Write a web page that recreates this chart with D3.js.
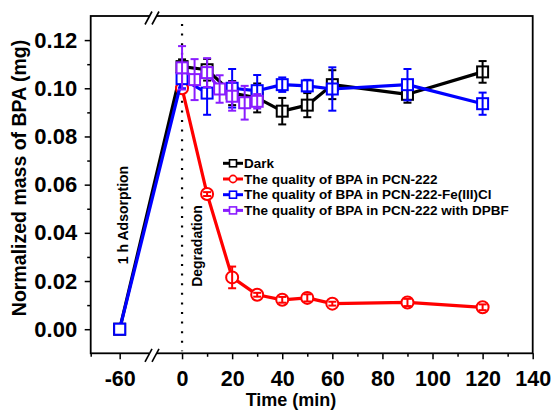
<!DOCTYPE html>
<html>
<head>
<meta charset="utf-8">
<script src="https://cdn.jsdelivr.net/npm/d3@7"></script>
<style>
  body { margin: 0; background: #fff; }
  text { font-family: Arial, "Liberation Sans", sans-serif; font-weight: bold; }
</style>
</head>
<body>
<div id="chart"></div>
<script>
const width = 553;
const height = 410;

// data
const darkTime = [-60, 0, 10, 20, 30, 40, 50, 60, 90, 120];
const darkMass = [0, 0.109, 0.1077, 0.098, 0.096, 0.0905, 0.093, 0.1015, 0.0975, 0.1068];
const darkErr  = [0, 0.003, 0.0045, 0.005, 0.006, 0.0055, 0.005, 0.006, 0.0035, 0.0045];

const redTime = [0, 10, 20, 30, 40, 50, 60, 90, 120];
const redMass = [0.100, 0.0561, 0.0215, 0.0143, 0.0122, 0.013, 0.0106, 0.0111, 0.0091];
const redErr  = [0, 0.0008, 0.0045, 0.0008, 0.0012, 0.0015, 0.0008, 0.0015, 0.0012];

const feTime = [-60, 0, 10, 20, 30, 40, 50, 60, 90, 120];
const feMass = [0, 0.104, 0.098, 0.100, 0.099, 0.1015, 0.101, 0.0997, 0.1015, 0.0936];
const feErr  = [0, 0.004, 0.009, 0.008, 0.0065, 0.003, 0.0025, 0.009, 0.0065, 0.0046];

const dpbfTime = [0, 5, 10, 15, 20, 25, 30];
const dpbfMass = [0.1085, 0.1036, 0.1065, 0.0997, 0.0967, 0.094, 0.0946];
const dpbfErr  = [0.009, 0.0085, 0.006, 0.0057, 0.006, 0.007, 0.003];

const seriesNames = [
  "Dark",
  "The quality of BPA in PCN-222",
  "The quality of BPA in PCN-222-Fe(III)Cl",
  "The quality of BPA in PCN-222 with DPBF"
];
const seriesColors = ["#000000", "#ff0000", "#0000ff", "#8a1cff"];
const seriesShapes = ["square", "circle", "square", "square"];

const xMajor = [-60, 0, 20, 40, 60, 80, 100, 120, 140];
const xMinor = [-70, 10, 30, 50, 70, 90, 110, 130];
const yMajor = [0, 0.02, 0.04, 0.06, 0.08, 0.10, 0.12];
const yMinor = [0.01, 0.03, 0.05, 0.07, 0.09, 0.11];

const plotLeft = 90.7, plotRight = 532.7, plotTop = 16, plotBottom = 353.3;

// broken x axis: a short piece around -60, then -11..140
const x = d3.scaleLinear()
    .domain([-70, -48.5, -11, 140])
    .range([plotLeft, 153, 154.5, plotRight]);
const y = d3.scaleLinear().domain([-0.01, 0.13]).range([plotBottom, plotTop]);

const svg = d3.select("#chart").append("svg")
    .attr("width", width)
    .attr("height", height);

// frame
svg.append("rect")
    .attr("x", plotLeft).attr("y", plotTop)
    .attr("width", plotRight - plotLeft).attr("height", plotBottom - plotTop)
    .attr("fill", "none").attr("stroke", "#000").attr("stroke-width", 1.8);

// y axis
const yAxis = svg.append("g")
    .attr("transform", `translate(${plotLeft},0)`)
    .call(d3.axisLeft(y).tickValues(yMajor).tickFormat(d3.format(".2f")).tickSize(6).tickPadding(7.5));
yAxis.select(".domain").remove();
yAxis.selectAll("line").attr("stroke-width", 1.5);
yAxis.selectAll("text").style("font-size", "22px").attr("fill", "#000")
    .style("font-family", "Arial, 'Liberation Sans', sans-serif").style("font-weight", "bold");

const yAxisMinor = svg.append("g")
    .attr("transform", `translate(${plotLeft},0)`)
    .call(d3.axisLeft(y).tickValues(yMinor).tickFormat("").tickSize(3.5));
yAxisMinor.select(".domain").remove();
yAxisMinor.selectAll("line").attr("stroke-width", 1.5);

// x axis (plain hyphen for negatives, as in the original)
const xAxis = svg.append("g")
    .attr("transform", `translate(0,${plotBottom})`)
    .call(d3.axisBottom(x).tickValues(xMajor).tickFormat(d => String(d)).tickSize(6).tickPadding(11));
xAxis.select(".domain").remove();
xAxis.selectAll("line").attr("stroke-width", 1.5);
xAxis.selectAll("text").style("font-size", "21.5px").attr("fill", "#000")
    .style("font-family", "Arial, 'Liberation Sans', sans-serif").style("font-weight", "bold");

const xAxisMinor = svg.append("g")
    .attr("transform", `translate(0,${plotBottom})`)
    .call(d3.axisBottom(x).tickValues(xMinor).tickFormat("").tickSize(3.5));
xAxisMinor.select(".domain").remove();
xAxisMinor.selectAll("line").attr("stroke-width", 1.5);

// axis break marks on bottom and top
function breakMark(cy) {
  const g = svg.append("g");
  g.append("rect").attr("x", 149).attr("y", cy - 3).attr("width", 8).attr("height", 6).attr("fill", "#fff");
  [0, 7].forEach(off => {
    g.append("line")
      .attr("x1", 145 + off).attr("y1", cy + 7)
      .attr("x2", 152 + off).attr("y2", cy - 6)
      .attr("stroke", "#000").attr("stroke-width", 1.6);
  });
}
breakMark(plotBottom + 1.5);
breakMark(plotTop + 1.5);

// dotted line at t = 0
svg.append("line")
    .attr("x1", x(0)).attr("x2", x(0))
    .attr("y1", 24).attr("y2", plotBottom - 2)
    .attr("stroke", "#000").attr("stroke-width", 2.2)
    .attr("stroke-dasharray", "2,7.6");

// annotations
svg.append("text")
    .attr("transform", `translate(128,215) rotate(-90)`)
    .attr("text-anchor", "middle")
    .style("font-size", "14px")
    .text("1 h Adsorption");
svg.append("text")
    .attr("transform", `translate(202,246) rotate(-90)`)
    .attr("text-anchor", "middle")
    .style("font-size", "14px")
    .text("Degradation");

// axis titles
svg.append("text")
    .attr("x", 291).attr("y", 406)
    .attr("text-anchor", "middle")
    .style("font-size", "18px")
    .text("Time (min)");
svg.append("text")
    .attr("transform", `translate(26,178) rotate(-90)`)
    .attr("text-anchor", "middle")
    .style("font-size", "19.5px")
    .text("Normalized mass of BPA (mg)");

// series
const series = [
  { time: darkTime, mass: darkMass, err: darkErr },
  { time: redTime, mass: redMass, err: redErr },
  { time: feTime, mass: feMass, err: feErr },
  { time: dpbfTime, mass: dpbfMass, err: dpbfErr }
];

const line = d3.line().x(d => x(d.t)).y(d => y(d.m));

series.forEach((s, i) => {
  const color = seriesColors[i];
  const pts = s.time.map((t, k) => ({ t: t, m: s.mass[k], e: s.err[k] }));
  const g = svg.append("g");

  g.append("path")
    .datum(pts)
    .attr("d", line)
    .attr("fill", "none")
    .attr("stroke", color)
    .attr("stroke-width", 3.2)
    .attr("stroke-linejoin", "round");

  if (seriesShapes[i] === "circle") {
    g.selectAll("circle").data(pts).join("circle")
      .attr("cx", d => x(d.t)).attr("cy", d => y(d.m)).attr("r", 6)
      .attr("fill", "#fff").attr("stroke", color).attr("stroke-width", 2);
  } else {
    g.selectAll("rect").data(pts).join("rect")
      .attr("x", d => x(d.t) - 5.5).attr("y", d => y(d.m) - 5.5)
      .attr("width", 11).attr("height", 11)
      .attr("fill", "#fff").attr("stroke", color).attr("stroke-width", 2);
  }

  // error bars
  const eb = g.selectAll("g.eb").data(pts.filter(d => d.e > 0)).join("g").attr("class", "eb");
  eb.append("line")
    .attr("x1", d => x(d.t)).attr("x2", d => x(d.t))
    .attr("y1", d => y(d.m + d.e)).attr("y2", d => y(d.m - d.e))
    .attr("stroke", color).attr("stroke-width", 2);
  [1, -1].forEach(sg => {
    eb.append("line")
      .attr("x1", d => x(d.t) - 4).attr("x2", d => x(d.t) + 4)
      .attr("y1", d => y(d.m + sg * d.e)).attr("y2", d => y(d.m + sg * d.e))
      .attr("stroke", color).attr("stroke-width", 2);
  });
});

// legend
const legend = svg.append("g");
seriesNames.forEach((name, i) => {
  const cy = 163.3 + i * 15.7;
  const color = seriesColors[i];
  legend.append("line")
    .attr("x1", 223).attr("x2", 243).attr("y1", cy).attr("y2", cy)
    .attr("stroke", color).attr("stroke-width", 3);
  if (seriesShapes[i] === "circle") {
    legend.append("circle").attr("cx", 233).attr("cy", cy).attr("r", 3.6)
      .attr("fill", "#fff").attr("stroke", color).attr("stroke-width", 1.6);
  } else {
    legend.append("rect").attr("x", 229.5).attr("y", cy - 3.5).attr("width", 7).attr("height", 7)
      .attr("fill", "#fff").attr("stroke", color).attr("stroke-width", 1.6);
  }
  legend.append("text")
    .attr("x", 244).attr("y", cy + 4.7)
    .style("font-size", "13.5px")
    .text(name);
});
</script>
</body>
</html>
